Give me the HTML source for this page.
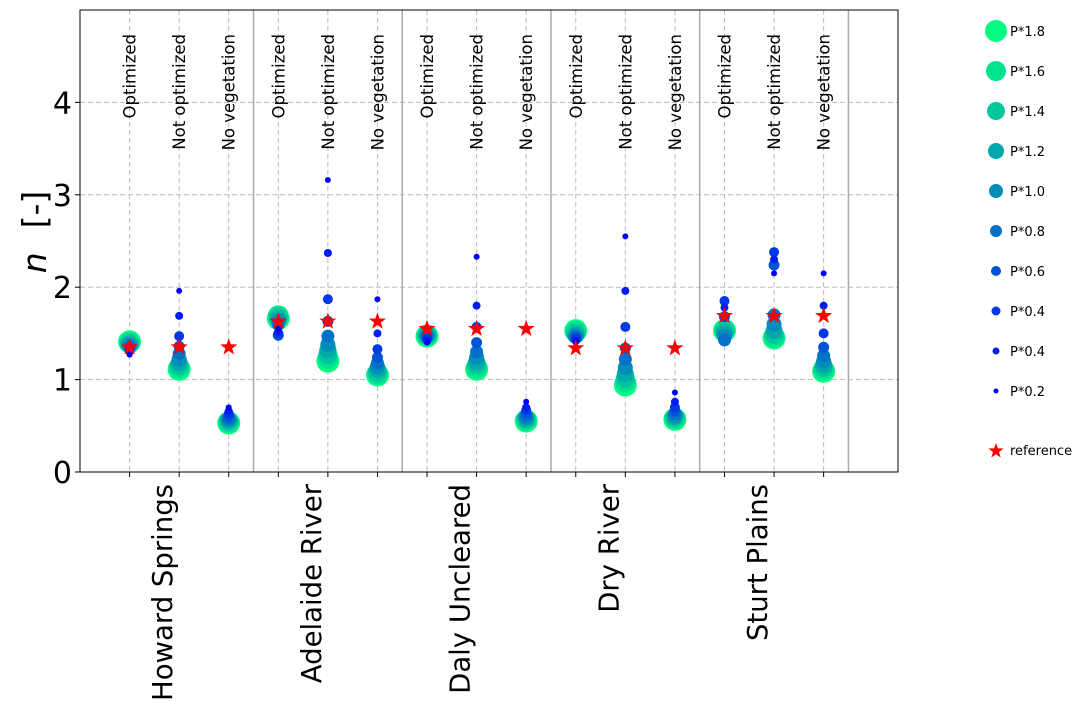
<!DOCTYPE html>
<html><head><meta charset="utf-8"><style>
body{margin:0;background:#fff;}
svg text{font-family:"DejaVu Sans","Liberation Sans",sans-serif;}
</style></head><body>
<svg id="chart" width="1084" height="709" xmlns="http://www.w3.org/2000/svg">
<g id="grid"></g>
<g id="seps"></g>
<g id="marks"></g>
<g id="labels"></g>
<g id="axes"></g>
<g id="legend"></g>
</svg>
<script>
const sites = ["Howard Springs","Adelaide River","Daly Uncleared","Dry River","Sturt Plains"];
const conditions = ["Optimized","Not optimized","No vegetation"];
const seriesNames = ["P*0.2","P*0.4","P*0.4","P*0.6","P*0.8","P*1.0","P*1.2","P*1.4","P*1.6","P*1.8"];
const yTicks = [0,1,2,3,4];
const refValues = [1.35,1.35,1.35, 1.63,1.63,1.63, 1.55,1.55,1.55, 1.34,1.34,1.34, 1.69,1.69,1.69];
// values[category][series]
const values = [
 [1.27,1.30,1.32,1.34,1.36,1.37,1.38,1.39,1.40,1.41],
 [1.96,1.69,1.47,1.36,1.28,1.22,1.18,1.15,1.13,1.11],
 [0.70,0.66,0.63,0.60,0.58,0.57,0.56,0.55,0.54,0.53],
 [1.55,1.52,1.50,1.48,1.60,1.63,1.65,1.67,1.69,1.66],
 [3.16,2.37,1.87,1.63,1.47,1.38,1.32,1.27,1.23,1.20],
 [1.87,1.50,1.33,1.24,1.18,1.14,1.11,1.08,1.06,1.05],
 [1.40,1.42,1.44,1.46,1.47,1.48,1.48,1.48,1.48,1.47],
 [2.33,1.80,1.57,1.40,1.30,1.24,1.19,1.16,1.13,1.11],
 [0.76,0.70,0.67,0.64,0.61,0.59,0.58,0.57,0.56,0.55],
 [1.40,1.42,1.44,1.45,1.46,1.47,1.48,1.50,1.52,1.53],
 [2.55,1.96,1.57,1.34,1.22,1.13,1.06,1.01,0.97,0.94],
 [0.86,0.76,0.70,0.66,0.63,0.61,0.60,0.59,0.58,0.57],
 [1.70,1.78,1.85,1.68,1.43,1.47,1.50,1.52,1.54,1.53],
 [2.15,2.30,2.38,2.24,1.70,1.60,1.53,1.49,1.46,1.45],
 [2.15,1.80,1.50,1.35,1.26,1.20,1.16,1.13,1.11,1.09]
];
const NS="http://www.w3.org/2000/svg";
const L=80,R=898,T=10,B=472;
const xs=i=>L+(i+1)/16.5*(R-L);
const ys=v=>B-v/5*(B-T);
const radii=[3,4,5,5.5,6.5,7.5,8.5,9.5,10.5,11.5];
const legRadii=[2.5,3.5,4.5,5,6,7,8,9,10,11];
function col(k){const t=k/9;return `rgb(0,${Math.round(255*t)},${Math.round(255-127*t)})`;}
function mk(tag,attrs,parent){const e=document.createElementNS(NS,tag);for(const a in attrs)e.setAttribute(a,attrs[a]);parent.appendChild(e);return e;}
function star(cx,cy,r){let p=[];for(let i=0;i<10;i++){const a=-Math.PI/2+i*Math.PI/5;const rr=i%2?r*0.4:r;p.push((cx+rr*Math.cos(a)).toFixed(1)+","+(cy+rr*Math.sin(a)).toFixed(1));}return p.join(" ");}
const grid=document.getElementById('grid'),seps=document.getElementById('seps'),marks=document.getElementById('marks'),labels=document.getElementById('labels'),axes=document.getElementById('axes'),legend=document.getElementById('legend');
const nCat=sites.length*conditions.length;
for(let i=0;i<nCat;i++){
  const g=mk('line',{x1:xs(i),x2:xs(i),y1:T,y2:B,stroke:'#bbb','stroke-dasharray':'5,3'},grid);
  
  
}
yTicks.slice(1).forEach(v=>{
  const g=mk('line',{x1:L,x2:R,y1:ys(v),y2:ys(v),stroke:'#bbb','stroke-dasharray':'5,3'},grid);
  
  
});
for(let s=1;s<=sites.length;s++){
  const x=xs(s*3-0.5);
  const l=mk('line',{x1:x,x2:x,y1:T,y2:B,stroke:'#aaa','stroke-width':1.5},seps);
  
  
}
for(let i=0;i<nCat;i++){
  for(let k=9;k>=0;k--){
    const c=mk('circle',{cx:xs(i),cy:ys(values[i][k]),r:radii[k],fill:col(k)},marks);
    
    
  }
  const st=mk('polygon',{points:star(xs(i),ys(refValues[i]),9),fill:'red'},marks);
  
  
  const t=mk('text',{x:0,y:0,transform:`translate(${xs(i)+6},34) rotate(-90)`,'text-anchor':'end','font-size':16.5},labels);
  t.textContent=conditions[i%3];
  
  
}
const fr=mk('rect',{x:L,y:T,width:R-L,height:B-T,fill:'none',stroke:'#000','stroke-width':1},axes);


for(let i=0;i<nCat;i++){
  const tk=mk('line',{x1:xs(i),x2:xs(i),y1:B,y2:B+5,stroke:'#000'},axes);
  
  
}
sites.forEach((s,j)=>{
  const x=xs(j*3+1);
  const t=mk('text',{x:0,y:0,transform:`translate(${x-7},484) rotate(-90)`,'text-anchor':'end','font-size':27.5},axes);
  t.textContent=s;
  
  
});
yTicks.forEach(v=>{
  const tk=mk('line',{x1:L-5,x2:L,y1:ys(v),y2:ys(v),stroke:'#000'},axes);
  
  
  const t=mk('text',{x:L-8,y:ys(v)+11,'text-anchor':'end','font-size':30},axes);
  t.textContent=v;
  
  
});
const yl=mk('text',{x:0,y:0,transform:'translate(46,232) rotate(-90)','text-anchor':'middle','font-size':33},axes);
yl.innerHTML='<tspan font-style="italic">n</tspan><tspan dx="24">[-]</tspan>';


const legOrder=[9,8,7,6,5,4,3,2,1,0];
const legNames=["P*1.8","P*1.6","P*1.4","P*1.2","P*1.0","P*0.8","P*0.6","P*0.4","P*0.4","P*0.2"];
legOrder.forEach((k,n)=>{
  const y=31+n*40;
  const c=mk('circle',{cx:996,cy:y,r:legRadii[k],fill:col(k)},legend);
  
  
  const t=mk('text',{x:1010,y:y+5,'font-size':13},legend);
  t.textContent=legNames[n];
  
  
});
const ls=mk('polygon',{points:star(996,451,8),fill:'red'},legend);


const lt=mk('text',{x:1010,y:455,'font-size':13},legend);
lt.textContent='reference';


</script>
</body></html>
